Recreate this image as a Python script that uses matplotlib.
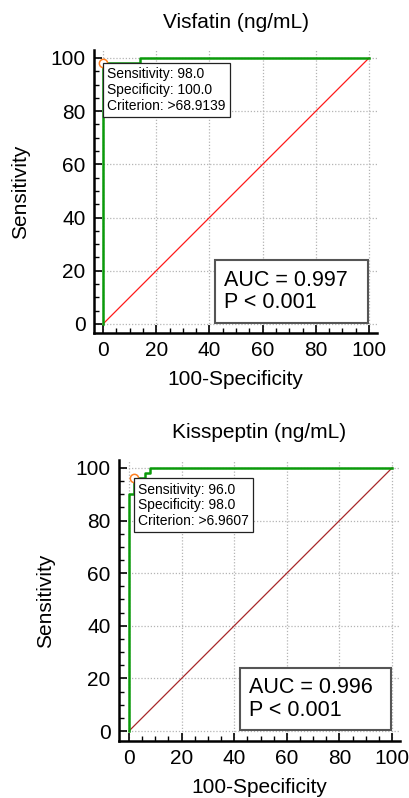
import numpy as np
import matplotlib
matplotlib.use('Agg')
import matplotlib.pyplot as plt
from matplotlib.patches import Rectangle
from matplotlib.ticker import MultipleLocator

plt.rcParams['font.family'] = ['Liberation Sans', 'DejaVu Sans']

# ROC curves (100-specificity, sensitivity)
visfatin_fpr = [0, 0, 14, 14, 100]
visfatin_tpr = [0, 98, 98, 100, 100]
kiss_fpr = [0, 0, 2, 2, 6, 6, 8, 8, 100]
kiss_tpr = [0, 90, 90, 96, 96, 98, 98, 100, 100]

# criterion points and their texts
visfatin_crit = (0, 98)
kiss_crit = (2, 96)
visfatin_info = ['Sensitivity: 98.0', 'Specificity: 100.0', 'Criterion: >68.9139']
kiss_info = ['Sensitivity: 96.0', 'Specificity: 98.0', 'Criterion: >6.9607']

titles = ['Visfatin (ng/mL)', 'Kisspeptin (ng/mL)']
auc_text = ['AUC = 0.997\nP < 0.001', 'AUC = 0.996\nP < 0.001']
diag_colors = ['#ff1a1a', '#a8282a']


def draw_roc(ax, fpr, tpr, crit, info, title, auc, diag_color, lo):
    ax.set_xlim(lo, 103)
    ax.set_ylim(lo, 103)
    ax.xaxis.set_major_locator(MultipleLocator(20))
    ax.yaxis.set_major_locator(MultipleLocator(20))
    ax.xaxis.set_minor_locator(MultipleLocator(5))
    ax.yaxis.set_minor_locator(MultipleLocator(5))
    ax.grid(True, which='major', linestyle=(0, (1, 1.5)), color='#b4b4b4', linewidth=0.9)
    ax.set_axisbelow(True)
    for s in ['top', 'right']:
        ax.spines[s].set_visible(False)
    for s in ['left', 'bottom']:
        ax.spines[s].set_linewidth(1.8)
    ax.tick_params(which='major', direction='in', length=6, width=1.2, labelsize=15, pad=6)
    ax.tick_params(which='minor', direction='in', length=3.5, width=1.0)

    ax.plot([0, 100], [0, 100], color=diag_color, linewidth=0.9)
    ax.plot(fpr, tpr, color='#0a9a0a', linewidth=1.8)
    ax.plot([crit[0]], [crit[1]], 'o', markersize=6, markerfacecolor='white',
            markeredgecolor='#ff8020', markeredgewidth=1.1, zorder=5)
    ax.annotate('\n'.join(info), xy=crit, xytext=(3, -3), textcoords='offset points',
                ha='left', va='top', fontsize=10, linespacing=1.15, zorder=6,
                bbox=dict(boxstyle='square,pad=0.3', facecolor='white',
                          edgecolor='#222222', linewidth=0.9))

    ax.add_patch(Rectangle((42, 0.4), 57.6, 23.6, facecolor='white', edgecolor='#555555',
                           linewidth=1.5, zorder=4))
    ax.text(45.5, 12.2, auc, ha='left', va='center', fontsize=15.5, linespacing=1.1, zorder=5)

    ax.set_title(title, fontsize=15, pad=16)
    ax.set_xlabel('100-Specificity', fontsize=15, labelpad=7)
    ax.set_ylabel('Sensitivity', fontsize=15, labelpad=15)


fig = plt.figure(figsize=(4.09, 7.98), dpi=100)
ax1 = fig.add_axes([94 / 409, (798 - 333) / 798, 283 / 409, 283 / 798])
ax2 = fig.add_axes([119 / 409, (798 - 741) / 798, 281 / 409, 281 / 798])

draw_roc(ax1, visfatin_fpr, visfatin_tpr, visfatin_crit, visfatin_info,
         titles[0], auc_text[0], diag_colors[0], -3.4)
draw_roc(ax2, kiss_fpr, kiss_tpr, kiss_crit, kiss_info,
         titles[1], auc_text[1], diag_colors[1], -3.8)

plt.savefig('out.png', dpi=100)
